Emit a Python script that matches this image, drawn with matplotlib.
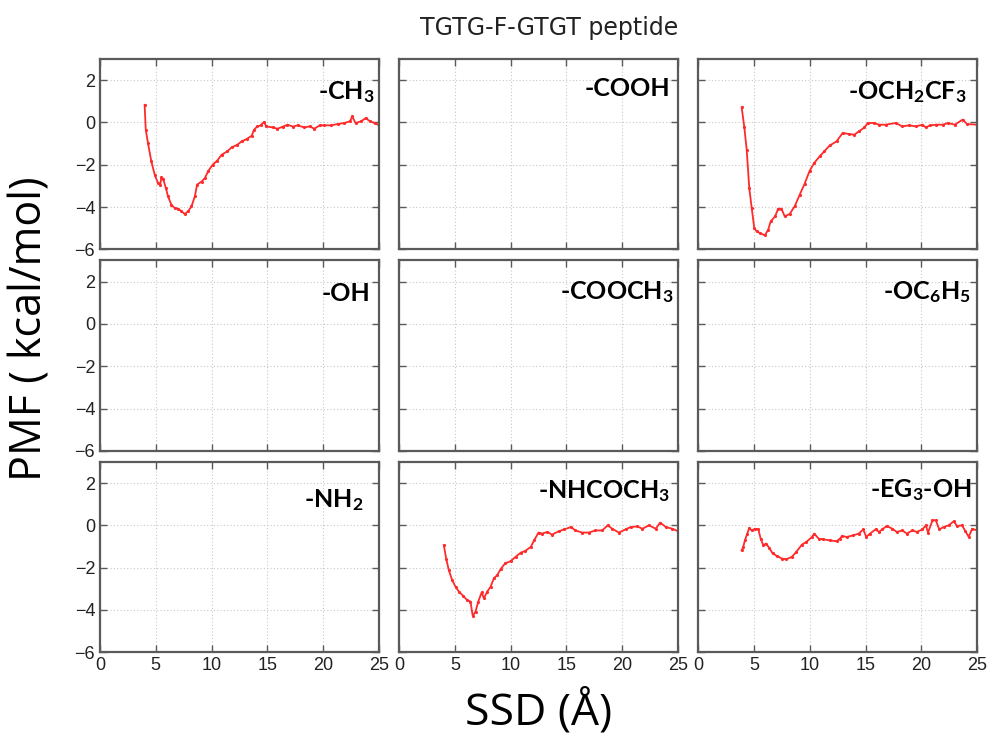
import matplotlib
matplotlib.use("Agg")
import matplotlib.pyplot as plt
import numpy as np

plt.rcParams["mathtext.fontset"] = "custom"
plt.rcParams["mathtext.bf"] = "Lato:bold"
plt.rcParams["mathtext.rm"] = "Lato:bold"
plt.rcParams["mathtext.default"] = "bf"

# PMF curves (SSD in Angstrom, PMF in kcal/mol)
ch3_x = [4.0, 4.1, 4.3, 4.6, 4.9, 5.2, 5.4, 5.5, 5.66, 5.9, 6.1, 6.4, 6.7, 7.0, 7.3, 7.6,
         7.9, 8.2, 8.5, 8.7, 9.1, 9.4, 9.7, 10.1, 10.5, 10.9, 11.4, 11.8, 12.3, 12.7, 13.2,
         13.6, 13.8, 14.1, 14.4, 14.7, 14.9, 15.5, 15.9, 16.4, 16.8, 17.3, 17.7, 18.3, 18.8,
         19.2, 19.7, 20.1, 20.7, 21.3, 21.9, 22.4, 22.6, 22.9, 23.4, 23.8, 24.2, 24.6, 25.0]
ch3_y = [0.83, -0.35, -0.98, -1.84, -2.47, -2.87, -2.94, -2.6, -2.66, -3.1, -3.5, -3.9,
         -4.05, -4.08, -4.2, -4.33, -4.2, -3.97, -3.5, -2.94, -2.8, -2.63, -2.3, -2.0, -1.81,
         -1.53, -1.37, -1.18, -1.06, -0.9, -0.77, -0.63, -0.35, -0.19, -0.14, 0.02, -0.19,
         -0.24, -0.3, -0.2, -0.11, -0.2, -0.14, -0.24, -0.19, -0.3, -0.14, -0.14, -0.14, -0.08,
         -0.03, 0.05, 0.28, -0.03, 0.05, 0.2, 0.05, -0.03, -0.14]

ocf3_x = [3.9, 4.14, 4.35, 4.58, 4.8, 5.03, 5.24, 5.53, 5.98, 6.28, 6.5, 6.9, 7.17, 7.46,
          7.76, 8.2, 8.65, 9.1, 9.54, 10.0, 10.4, 10.9, 11.3, 11.8, 12.4, 12.95, 13.5, 14.0,
          14.4, 14.9, 15.2, 15.8, 16.2, 16.8, 17.7, 18.3, 18.9, 19.5, 20.1, 20.4, 20.8, 21.3,
          21.9, 22.4, 23.0, 23.7, 24.1, 25.0]
ocf3_y = [0.71, -0.24, -1.29, -3.1, -4.05, -5.0, -5.15, -5.23, -5.34, -5.07, -4.68, -4.44,
          -4.08, -4.08, -4.44, -4.33, -3.97, -3.42, -2.9, -2.28, -1.92, -1.6, -1.37, -1.09,
          -0.9, -0.5, -0.55, -0.58, -0.43, -0.24, -0.03, -0.03, -0.11, -0.11, -0.03, -0.19,
          -0.14, -0.19, -0.11, -0.24, -0.14, -0.11, -0.11, -0.03, -0.11, 0.13, -0.08, -0.11]

nhac_x = [4.01, 4.22, 4.46, 4.76, 5.06, 5.36, 5.72, 6.1, 6.4, 6.6, 6.85, 7.1, 7.4, 7.6, 7.9,
          8.2, 8.5, 8.8, 9.1, 9.5, 10.0, 10.44, 10.9, 11.3, 11.8, 12.1, 12.5, 12.8, 13.3, 13.7,
          14.3, 14.8, 15.4, 15.8, 16.4, 17.0, 17.6, 18.2, 18.7, 19.1, 19.7, 20.3, 20.75, 21.35,
          21.8, 22.4, 23.0, 23.4, 23.9, 24.5, 25.0]
nhac_y = [-0.94, -1.57, -2.12, -2.59, -2.9, -3.13, -3.32, -3.53, -3.6, -4.28, -4.08, -3.6,
          -3.17, -3.45, -3.13, -2.9, -2.5, -2.35, -2.07, -1.8, -1.69, -1.49, -1.29, -1.21,
          -1.02, -0.71, -0.34, -0.39, -0.31, -0.44, -0.28, -0.19, -0.08, -0.24, -0.34, -0.34,
          -0.24, -0.24, 0.0, -0.16, -0.34, -0.19, -0.08, -0.05, -0.16, 0.0, -0.16, 0.13, -0.08,
          -0.16, -0.28]

eg3_x = [3.9, 4.04, 4.19, 4.4, 4.58, 4.8, 5.1, 5.4, 5.6, 5.84, 6.08, 6.38, 6.68, 7.04, 7.5,
         7.9, 8.4, 8.8, 9.3, 9.7, 10.2, 10.4, 10.8, 11.2, 11.8, 12.4, 12.7, 12.9, 13.3, 13.9,
         14.4, 14.8, 15.06, 15.4, 15.9, 16.2, 16.5, 16.9, 17.4, 17.8, 18.3, 18.7, 19.2, 19.6,
         20.1, 20.4, 20.6, 21.0, 21.3, 21.6, 22.0, 22.45, 22.9, 23.2, 23.65, 23.95, 24.25,
         24.55, 25.0]
eg3_y = [-1.18, -1.02, -0.71, -0.39, -0.13, -0.24, -0.16, -0.19, -0.63, -0.94, -0.86, -1.07,
         -1.33, -1.44, -1.57, -1.6, -1.49, -1.25, -0.91, -0.78, -0.55, -0.39, -0.63, -0.66,
         -0.71, -0.75, -0.63, -0.5, -0.55, -0.47, -0.39, -0.19, -0.55, -0.39, -0.19, -0.31,
         -0.19, -0.03, -0.16, -0.31, -0.24, -0.39, -0.24, -0.31, -0.19, 0.0, -0.34, 0.24,
         0.24, -0.19, -0.08, 0.0, 0.19, -0.03, 0.0, -0.28, -0.55, -0.16, -0.24]

labels = ["-CH$_3$", "-COOH", "-OCH$_2$CF$_3$",
          "-OH", "-COOCH$_3$", "-OC$_6$H$_5$",
          "-NH$_2$", "-NHCOCH$_3$", "-EG$_3$-OH"]
curves = [(ch3_x, ch3_y), None, (ocf3_x, ocf3_y),
          None, None, None,
          None, (nhac_x, nhac_y), (eg3_x, eg3_y)]
# label anchor (right edge x, baseline y) in data units
label_pos = [(24.6, 1.08), (24.3, 1.24), (24.1, 1.08),
             (24.2, 1.08), (24.6, 1.18), (24.4, 1.18),
             (23.6, 0.86), (24.3, 1.27), (24.5, 1.33)]

x_ticks = [0, 5, 10, 15, 20, 25]
y_ticks = [-6, -4, -2, 0, 2]

fig, axs = plt.subplots(3, 3, figsize=(9.9, 7.55), dpi=100)
fig.subplots_adjust(left=0.101, right=0.987, top=0.922, bottom=0.136,
                    wspace=0.072, hspace=0.058)

frame_col = "#5a5a5a"
for i, ax in enumerate(axs.flat):
    r, c = divmod(i, 3)
    ax.set_xlim(0, 25)
    ax.set_ylim(-6, 3)
    ax.set_xticks(x_ticks)
    ax.set_yticks(y_ticks)
    ax.grid(True, color="#c8c8c8", linestyle=(0, (1, 2)), linewidth=0.8)
    ax.tick_params(direction="in", length=5, width=1, colors=frame_col,
                   top=True, right=True, labelsize=13, labelcolor="#222222")
    for s in ax.spines.values():
        s.set_color(frame_col)
        s.set_linewidth(1.6)
    if c != 0:
        ax.set_yticklabels([])
    if r != 2:
        ax.set_xticklabels([])
    for lab in ax.get_xticklabels() + ax.get_yticklabels():
        lab.set_fontfamily("Liberation Sans")
    if curves[i] is not None:
        xs, ys = curves[i]
        ax.plot(xs, ys, color="#ff2a2a", linewidth=1.3, marker=".",
                markersize=2.5)
    lx, ly = label_pos[i]
    ax.text(lx, ly, labels[i], ha="right", va="baseline", fontsize=18,
            fontfamily="Lato", fontweight="bold", color="black")

fig.text(0.555, 0.963, "TGTG-F-GTGT peptide", ha="center", va="center",
         fontsize=17, fontfamily="DejaVu Sans", color="#222222")
fig.text(0.031, 0.565, "PMF ( kcal/mol)", rotation=90, ha="center", va="center",
         fontsize=31, fontfamily="Open Sans")
fig.text(0.544, 0.057, "SSD (Å)", ha="center", va="center",
         fontsize=32, fontfamily="Open Sans")

fig.savefig("out.png", dpi=100, facecolor="white")
